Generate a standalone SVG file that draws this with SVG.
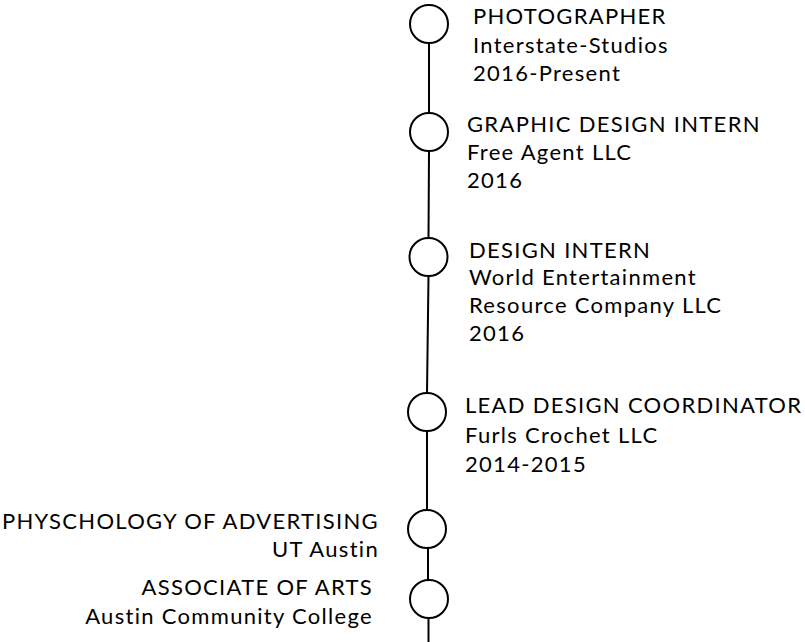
<svg xmlns="http://www.w3.org/2000/svg" width="805" height="642" viewBox="0 0 805 642">
<style>
.n circle{fill:#fff;stroke:#000;stroke-width:2}
.c line{stroke:#000;stroke-width:2}
text{font-family:Lato,"Noto Sans",sans-serif;font-size:22px;font-weight:400;letter-spacing:1.3px;fill:#000}
.l{text-anchor:end}
</style>
<rect width="805" height="642" fill="#fff"/>
<g id="connectors" class="c">
<line x1="429" y1="43" x2="429" y2="113"/>
<line x1="429" y1="151" x2="428.5" y2="238"/>
<line x1="428.5" y1="276" x2="427" y2="393"/>
<line x1="427" y1="431" x2="427" y2="510"/>
<line x1="428" y1="548" x2="428" y2="580"/>
<line x1="428.5" y1="618" x2="428.5" y2="642"/>
</g>
<g id="photographer" class="n">
<circle cx="429" cy="24" r="19"/>
<text x="473" y="24">PHOTOGRAPHER</text>
<text x="473" y="53">Interstate-Studios</text>
<text x="473" y="81">2016-Present</text>
</g>
<g id="graphic-design-intern" class="n">
<circle cx="429" cy="132" r="19"/>
<text x="467" y="132">GRAPHIC DESIGN INTERN</text>
<text x="467" y="160">Free Agent LLC</text>
<text x="467" y="188">2016</text>
</g>
<g id="design-intern" class="n">
<circle cx="428.5" cy="257" r="19"/>
<text x="469" y="258">DESIGN INTERN</text>
<text x="469" y="285">World Entertainment</text>
<text x="469" y="313">Resource Company LLC</text>
<text x="469" y="341">2016</text>
</g>
<g id="lead-design-coordinator" class="n">
<circle cx="427" cy="412" r="19"/>
<text x="465" y="413">LEAD DESIGN COORDINATOR</text>
<text x="465" y="443">Furls Crochet LLC</text>
<text x="465" y="472">2014-2015</text>
</g>
<g id="psychology-of-advertising" class="n">
<circle cx="427" cy="529" r="19"/>
<text class="l" x="379" y="529">PHYSCHOLOGY OF ADVERTISING</text>
<text class="l" x="379" y="557">UT Austin</text>
</g>
<g id="associate-of-arts" class="n">
<circle cx="429" cy="599" r="19"/>
<text class="l" x="373" y="595">ASSOCIATE OF ARTS</text>
<text class="l" x="373" y="624">Austin Community College</text>
</g>
</svg>
